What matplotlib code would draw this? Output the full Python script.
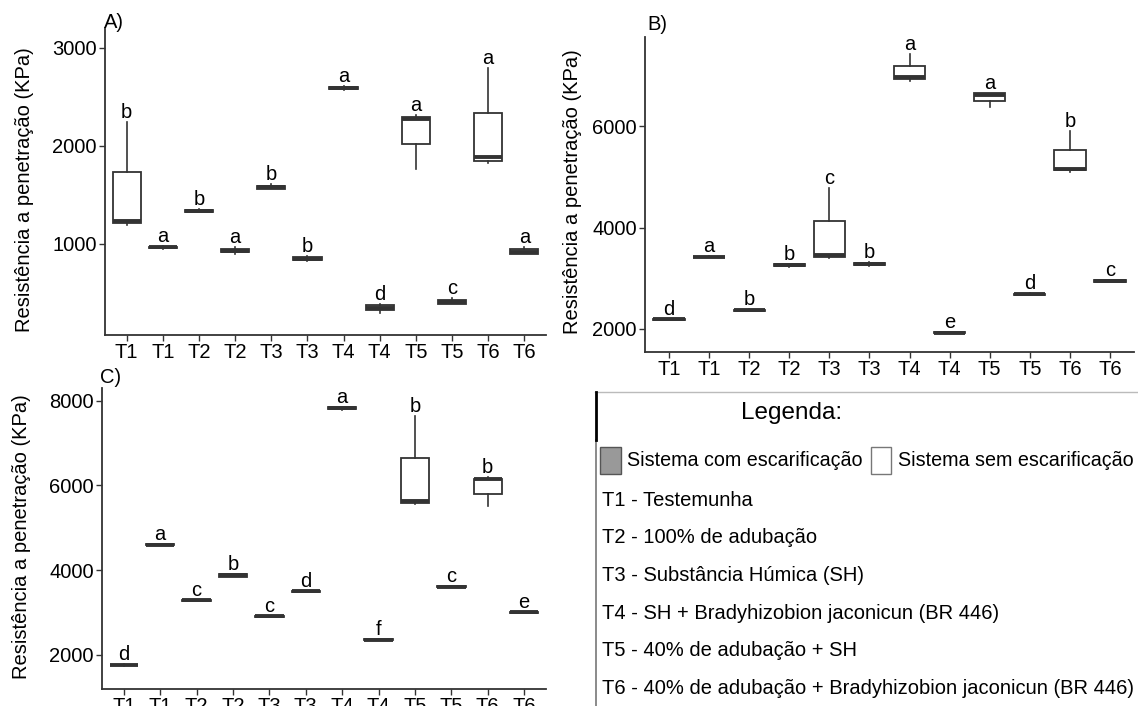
import matplotlib
matplotlib.use("Agg")
import matplotlib.pyplot as plt
from matplotlib.patches import Rectangle

plt.rcParams['font.family'] = ['Liberation Sans', 'DejaVu Sans']

# Rótulos do eixo x (cada tratamento aparece duas vezes: sem / com escarificação)
tratamentos = ["T1", "T1", "T2", "T2", "T3", "T3", "T4", "T4", "T5", "T5", "T6", "T6"]

# Painel A - estatísticas dos boxplots (lim. inferior, Q1, mediana, Q3, lim. superior)
a_lo  = [1190, 950, 1320, 895, 1555, 820, 2570, 290, 1758, 385, 1820, 895]
a_q1  = [1207, 955, 1325, 910, 1560, 832, 2578, 320, 2014, 385, 1844, 897]
a_med = [1228, 962, 1335, 928, 1575, 847, 2590, 345, 2272, 405, 1888, 918]
a_q3  = [1735, 968, 1345, 945, 1590, 862, 2600, 372, 2296, 430, 2337, 946]
a_hi  = [2238, 975, 1355, 965, 1605, 875, 2610, 385, 2313, 450, 2789, 970]
a_letras = ["b", "a", "b", "a", "b", "b", "a", "d", "a", "c", "a", "a"]

# Painel B
b_lo  = [2180, 3410, 2352, 3225, 3401, 3250, 6895, 1912, 6368, 2670, 5105, 2925]
b_q1  = [2183, 3413, 2356, 3235, 3421, 3265, 6921, 1915, 6500, 2672, 5132, 2930]
b_med = [2191, 3421, 2368, 3257, 3454, 3289, 6961, 1928, 6612, 2684, 5164, 2947]
b_q3  = [2199, 3429, 2380, 3275, 4132, 3310, 7191, 1941, 6645, 2696, 5526, 2965]
b_hi  = [2203, 3432, 2384, 3290, 4789, 3325, 7414, 1944, 6650, 2700, 5901, 2975]
b_letras = ["d", "a", "b", "b", "c", "b", "a", "e", "a", "d", "b", "c"]

# Painel C
c_lo  = [1745, 4590, 3270, 3835, 2896, 3482, 7790, 2338, 5571, 3592, 5508, 2990]
c_q1  = [1748, 4593, 3273, 3845, 2899, 3485, 7795, 2341, 5594, 3594, 5806, 2993]
c_med = [1757, 4600, 3284, 3872, 2908, 3496, 7818, 2352, 5626, 3605, 6143, 3002]
c_q3  = [1766, 4607, 3295, 3900, 2917, 3507, 7840, 2363, 6644, 3616, 6158, 3011]
c_hi  = [1770, 4610, 3300, 3915, 2920, 3512, 7850, 2368, 7646, 3630, 6197, 3015]
c_letras = ["d", "a", "c", "b", "c", "d", "a", "f", "b", "c", "b", "e"]

# Legenda
sistemas = ["Sistema com escarificação", "Sistema sem escarificação"]
descricoes = [
    "T1 - Testemunha",
    "T2 - 100% de adubação",
    "T3 - Substância Húmica (SH)",
    "T4 - SH + Bradyhizobion jaconicun (BR 446)",
    "T5 - 40% de adubação + SH",
    "T6 - 40% de adubação + Bradyhizobion jaconicun (BR 446)",
]

W, H = 1138, 706
COR_BORDA = "#333333"
COR_COM = "#999999"
COR_SEM = "white"
FS = 14.5

fig = plt.figure(figsize=(W / 100, H / 100), dpi=100)


def eixo_px(esq, topo, dir, base):
    return fig.add_axes([esq / W, 1 - base / H, (dir - esq) / W, (base - topo) / H])


def painel(ax, lo, q1, med, q3, hi, letras, ylim, yticks):
    stats = []
    for i in range(len(med)):
        stats.append({"whislo": lo[i], "q1": q1[i], "med": med[i],
                      "q3": q3[i], "whishi": hi[i], "fliers": []})
    pos = list(range(1, len(med) + 1))
    bp = ax.bxp(stats, positions=pos, widths=0.78, patch_artist=True,
                showcaps=False, showfliers=False,
                boxprops=dict(edgecolor=COR_BORDA, linewidth=1.3),
                whiskerprops=dict(color=COR_BORDA, linewidth=1.2),
                medianprops=dict(color=COR_BORDA, linewidth=2.8))
    for i, caixa in enumerate(bp["boxes"]):
        caixa.set_facecolor(COR_SEM if i % 2 == 0 else COR_COM)
    for i in range(len(med)):
        ax.annotate(letras[i], (pos[i], hi[i]), xytext=(0, 0),
                    textcoords="offset points", ha="center", va="bottom",
                    fontsize=FS, color="black")
    ax.set_xlim(0.4, 12.6)
    ax.set_ylim(*ylim)
    ax.set_yticks(yticks)
    ax.set_xticks(pos)
    ax.set_xticklabels(tratamentos)
    for lado in ["top", "right"]:
        ax.spines[lado].set_visible(False)
    for lado in ["left", "bottom"]:
        ax.spines[lado].set_color(COR_BORDA)
        ax.spines[lado].set_linewidth(1.3)
    ax.tick_params(length=4, width=1, color=COR_BORDA, labelsize=FS,
                   labelcolor="black", pad=2)
    ax.patch.set_alpha(0)


axA = eixo_px(105, 28, 546, 335)
painel(axA, a_lo, a_q1, a_med, a_q3, a_hi, a_letras, (68, 3200), [1000, 2000, 3000])
axB = eixo_px(645, 37, 1134, 352)
painel(axB, b_lo, b_q1, b_med, b_q3, b_hi, b_letras, (1546, 7757), [2000, 4000, 6000])
axC = eixo_px(102, 388, 546, 689)
painel(axC, c_lo, c_q1, c_med, c_q3, c_hi, c_letras, (1190, 8300), [2000, 4000, 6000, 8000])

ylab = "Resistência a penetração (KPa)"
fig.text(25 / W, 1 - 190 / H, ylab, rotation=90, ha="center", va="center", fontsize=FS)
fig.text(572 / W, 1 - 192 / H, ylab, rotation=90, ha="center", va="center", fontsize=FS)
fig.text(22 / W, 1 - 537 / H, ylab, rotation=90, ha="center", va="center", fontsize=FS)

fig.text(104 / W, 1 - 23 / H, "A)", ha="left", va="center", fontsize=FS)
fig.text(647 / W, 1 - 25 / H, "B)", ha="left", va="center", fontsize=FS)
fig.text(100 / W, 1 - 377 / H, "C)", ha="left", va="center", fontsize=FS)

# Quadro da legenda em coordenadas de pixel
leg = eixo_px(595, 392, W, H)
leg.set_xlim(595, W)
leg.set_ylim(H, 392)
leg.axis("off")
leg.plot([595, W], [392, 392], color="#bbbbbb", linewidth=1, clip_on=False)
leg.plot([596, 596], [440, H], color="#777777", linewidth=1.2, clip_on=False)
leg.plot([596, 596], [392, 440], color="black", linewidth=2, clip_on=False)

leg.text(792, 413, "Legenda:", ha="center", va="center", fontsize=17.5)
leg.add_patch(Rectangle((600, 447), 21, 27, facecolor=COR_COM, edgecolor="#555555", linewidth=1))
leg.text(627, 461, sistemas[0], ha="left", va="center", fontsize=14.2)
leg.add_patch(Rectangle((871, 447), 20, 27, facecolor=COR_SEM, edgecolor="#777777", linewidth=1))
leg.text(898, 461, sistemas[1], ha="left", va="center", fontsize=14.2)
for i, txt in enumerate(descricoes):
    leg.text(602, 500 + 37.7 * i, txt, ha="left", va="center", fontsize=FS)

fig.savefig("out.png", dpi=100)
